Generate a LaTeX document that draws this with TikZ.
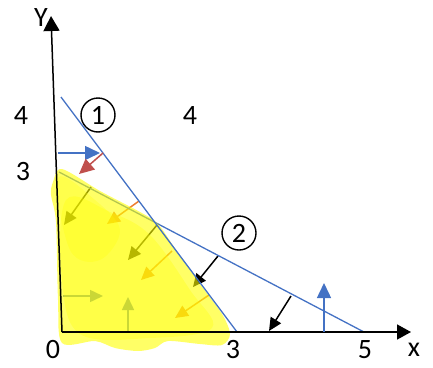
\documentclass[tikz,border=0pt]{standalone}
\usepackage{fontspec}
\setmainfont{Carlito}
\usetikzlibrary{arrows.meta}
\definecolor{lineblue}{RGB}{68,114,196}
\definecolor{redarr}{RGB}{192,80,77}
\definecolor{orangearr}{RGB}{237,125,49}
\definecolor{hilite}{RGB}{255,255,0}
\begin{document}
\begin{tikzpicture}[x=1pt,y=-1pt,>={Triangle[length=13pt,width=12pt]}]
	\tikzset{lbl/.style={font=\fontsize{28}{30}\selectfont,inner sep=0pt}}
	\tikzset{ring/.style={circle,draw,line width=1.4pt,minimum size=34pt,inner sep=0pt,font=\fontsize{28}{30}\selectfont}}
	\tikzset{arr/.style={line width=1.5pt,->}}
	\tikzset{bigarr/.style={line width=1.5pt,-{Triangle[length=15pt,width=14pt]}}}
	\tikzset{bound/.style={lineblue,line width=1.3pt}}
	\useasboundingbox (0,0) rectangle (433,367);
	% axes and boundary lines
	\coordinate (O) at (62,332);
	\coordinate (ytip) at (51,16);
	\coordinate (xtip) at (411,332);
	\coordinate (a1) at (61,97);
	\coordinate (b1) at (237,332);
	\coordinate (a2) at (59,172);
	\coordinate (b2) at (364,332);
	% arrows lying in the region
	\foreach \xa/\ya/\xb/\yb/\c [count=\i] in {91/187/64/225/black,139/201/107/224/orangearr,157/225/128/260/black,172/251/141/280/orangearr,218/256/193/287/black,209/295/175/318/orangearr,63/296/103/296/lineblue,128/332/128/297/lineblue}{
		\coordinate (s\i) at (\xa,\ya);
		\coordinate (e\i) at (\xb,\yb);
		\draw[arr,\c] (s\i) -- (e\i);
	}
	\draw[bound] (a2) -- (b2);
	% feasible region
	\fill[hilite,opacity=0.6] plot[smooth cycle,tension=0.5] coordinates {(53,182) (62,169) (100,191) (140,212) (158,224) (176,250) (200,284) (222,314) (230,334) (222,345) (200,344) (168,341) (155,348) (138,351) (115,348) (95,341) (62,343) (58,300) (56,222) (51,195)};
	\fill[hilite,opacity=0.3] plot[smooth cycle,tension=0.6] coordinates {(66,200) (110,212) (150,235) (190,290) (212,328) (150,338) (80,334) (62,280)};
	\fill[hilite,opacity=0.25] plot[smooth cycle,tension=0.6] coordinates {(58,178) (95,200) (120,230) (100,260) (70,250)};
	\draw[bound] (a1) -- (b1);
	\draw[line width=1.5pt,-{Triangle[length=15pt,width=16pt]}] (O) -- (ytip);
	\draw[line width=1.5pt,-{Triangle[length=14pt,width=15pt]}] (O) -- (xtip);
	% arrows outside the region
	\coordinate (s9) at (58,153);
	\coordinate (e9) at (100,153);
	\draw[bigarr,lineblue] (s9) -- (e9);
	\coordinate (s10) at (103,153);
	\coordinate (e10) at (79,174);
	\draw[bigarr,redarr] (s10) -- (e10);
	\coordinate (s11) at (291,296);
	\coordinate (e11) at (269,331);
	\draw[arr,black] (s11) -- (e11);
	\coordinate (s12) at (324,332);
	\coordinate (e12) at (324,283);
	\draw[bigarr,lineblue] (s12) -- (e12);
	% labels
	\node[lbl] (ylab) at (41,18) {Y};
	\node[lbl] (xlab) at (414,350) {x};
	\node[lbl] (zero) at (53,350) {0};
	\node[lbl] (three) at (233,350) {3};
	\node[lbl] (five) at (365,350) {5};
	\node[lbl] (fourl) at (21,116) {4};
	\node[lbl] (fourr) at (190,116) {4};
	\node[lbl] (threel) at (23,172) {3};
	\node[ring] (c1) at (98,115) {1};
	\node[ring] (c2) at (239,233) {2};
\end{tikzpicture}
\end{document}
